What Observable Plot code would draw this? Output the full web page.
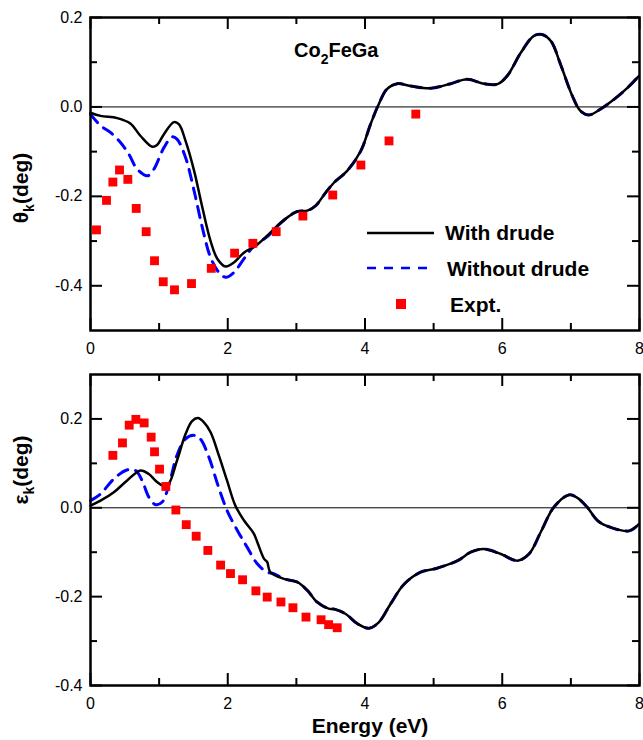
<!DOCTYPE html>
<html><head><meta charset="utf-8">
<script src="https://cdn.jsdelivr.net/npm/d3@7"></script>
<script src="https://cdn.jsdelivr.net/npm/@observablehq/plot@0.6"></script>
<style>
body{margin:0;background:#fff;}
#chart{position:relative;width:643px;height:740px;font-family:"Liberation Sans",Arial,sans-serif;}
#chart svg{position:absolute;left:0;}
</style></head><body><div id="chart"></div>
<script>
// ---- Data: Kerr rotation θk (top) ----
const thetaWithX = [0,0.146,0.39,0.58,0.73,0.90,0.97,1.07,1.215,1.29,1.385,1.51,1.63,1.75,1.85,1.97,2.09,2.235,2.405,2.575,2.72,2.87,3.01,3.16,3.28,3.43,3.55,3.74,3.94,4.08,4.20,4.32,4.47,4.66,4.96,5.25,5.49,5.73,5.93,6.07,6.27,6.46,6.58,6.71,6.85,7.02,7.14,7.26,7.43,7.63,7.82,7.99];
const thetaWithY = [-0.013,-0.020,-0.025,-0.037,-0.065,-0.089,-0.085,-0.061,-0.034,-0.039,-0.076,-0.143,-0.225,-0.300,-0.340,-0.357,-0.348,-0.326,-0.311,-0.288,-0.266,-0.247,-0.234,-0.232,-0.221,-0.191,-0.169,-0.143,-0.098,-0.039,0.006,0.040,0.052,0.047,0.042,0.052,0.062,0.052,0.051,0.069,0.121,0.159,0.162,0.147,0.095,0.025,-0.009,-0.018,-0.005,0.017,0.042,0.069];
const thetaWithoutX = [0,0.146,0.29,0.44,0.56,0.68,0.83,0.92,1.07,1.19,1.26,1.385,1.51,1.63,1.75,1.87,1.97,2.09,2.235,2.38,2.575,2.72,2.87,3.01,3.16,3.28,3.43,3.55,3.74,3.94,4.08,4.20,4.32,4.47,4.66,4.96,5.25,5.49,5.73,5.93,6.07,6.27,6.46,6.58,6.71,6.85,7.02,7.14,7.26,7.43,7.63,7.82,7.99];
const thetaWithoutY = [-0.016,-0.042,-0.057,-0.080,-0.106,-0.139,-0.154,-0.140,-0.091,-0.067,-0.072,-0.113,-0.188,-0.270,-0.337,-0.370,-0.381,-0.370,-0.340,-0.311,-0.290,-0.267,-0.247,-0.234,-0.232,-0.221,-0.191,-0.169,-0.143,-0.098,-0.039,0.006,0.040,0.052,0.047,0.042,0.052,0.062,0.052,0.051,0.069,0.121,0.159,0.162,0.147,0.095,0.025,-0.009,-0.018,-0.005,0.017,0.042,0.069];
const thetaExptX = [0.087,0.233,0.326,0.423,0.544,0.666,0.811,0.933,1.06,1.224,1.472,1.76,2.10,2.366,2.706,3.095,3.53,3.94,4.35,4.74];
const thetaExptY = [-0.275,-0.209,-0.168,-0.141,-0.162,-0.227,-0.279,-0.344,-0.391,-0.409,-0.395,-0.361,-0.327,-0.305,-0.279,-0.244,-0.197,-0.130,-0.076,-0.016];

// ---- Data: Kerr ellipticity εk (bottom) ----
const epsWithX = [0,0.146,0.34,0.53,0.73,0.85,0.97,1.07,1.14,1.26,1.385,1.48,1.565,1.65,1.75,1.87,1.99,2.11,2.235,2.38,2.43,2.53,2.575,2.62,2.82,3.01,3.16,3.30,3.47,3.55,3.72,3.89,4.06,4.20,4.37,4.57,4.81,5.05,5.35,5.54,5.73,5.98,6.22,6.39,6.56,6.75,6.97,7.09,7.24,7.39,7.58,7.85,7.99];
const epsWithY = [0.005,0.016,0.035,0.061,0.084,0.076,0.058,0.049,0.054,0.106,0.166,0.195,0.202,0.193,0.170,0.118,0.061,0.005,-0.028,-0.058,-0.077,-0.115,-0.122,-0.145,-0.160,-0.167,-0.186,-0.212,-0.227,-0.228,-0.239,-0.261,-0.271,-0.258,-0.217,-0.172,-0.145,-0.136,-0.119,-0.100,-0.093,-0.104,-0.119,-0.104,-0.055,0.001,0.029,0.023,0.001,-0.029,-0.044,-0.052,-0.037];
const epsWithoutX = [0,0.146,0.34,0.53,0.656,0.753,0.85,0.95,1.045,1.14,1.26,1.385,1.51,1.60,1.725,1.85,1.99,2.14,2.28,2.43,2.575,2.67,2.82,3.01,3.16,3.30,3.47,3.55,3.72,3.89,4.06,4.20,4.37,4.57,4.81,5.05,5.35,5.54,5.73,5.98,6.22,6.39,6.56,6.75,6.97,7.09,7.24,7.39,7.58,7.85,7.99];
const epsWithoutY = [0.016,0.031,0.065,0.085,0.084,0.061,0.024,0.007,0.013,0.050,0.118,0.155,0.163,0.155,0.114,0.054,-0.006,-0.051,-0.088,-0.126,-0.145,-0.148,-0.160,-0.167,-0.186,-0.212,-0.227,-0.228,-0.239,-0.261,-0.271,-0.258,-0.217,-0.172,-0.145,-0.136,-0.119,-0.100,-0.093,-0.104,-0.119,-0.104,-0.055,0.001,0.029,0.023,0.001,-0.029,-0.044,-0.052,-0.037];
const epsExptX = [0.326,0.466,0.564,0.661,0.782,0.884,0.933,1.006,1.098,1.244,1.395,1.54,1.71,1.896,2.04,2.216,2.41,2.575,2.775,2.95,3.14,3.36,3.47,3.595];
const epsExptY = [0.118,0.146,0.186,0.199,0.191,0.159,0.126,0.087,0.048,-0.005,-0.038,-0.064,-0.096,-0.129,-0.148,-0.162,-0.187,-0.201,-0.212,-0.225,-0.246,-0.252,-0.263,-0.270];

// ---- Ticks and labels ----
const xMajor = [0,2,4,6,8];
const xMinor = [1,3,5,7];
const yMajor = [-0.4,-0.2,0,0.2];
const yMinorTop = [-0.3,-0.1,0.1];
const yMinorBottom = [-0.3,-0.1,0.1];
const seriesNames = ["With drude","Without drude","Expt."];
const xTitle = "Energy (eV)";
const compound = ["Co","2","FeGa"];

const FONT = '"Liberation Sans", Arial, sans-serif';
const W = 643, ML = 90, MR = 4;
const DASH = "11,8";
const zip = (xs, ys) => xs.map((x, i) => ({x, y: ys[i]}));

function panel({height, marginTop, marginBottom, yDomain, yMinor, withX, withY, withoutX, withoutY, exptX, exptY}) {
  const fh = height - marginTop - marginBottom;
  const fw = W - ML - MR;
  const MAJ = 12, MIN = 7;
  const svg = Plot.plot({
    width: W, height, marginTop, marginBottom, marginLeft: ML, marginRight: MR,
    style: {fontFamily: FONT, fontSize: "16px", color: "black", background: "white", overflow: "visible"},
    x: {domain: [0, 8], label: null},
    y: {domain: yDomain, label: null},
    marks: [
      Plot.ruleY([0], {stroke: "black", strokeWidth: 1}),
      Plot.line(zip(withoutX, withoutY), {x: "x", y: "y", stroke: "#0000ff", strokeWidth: 3, strokeDasharray: DASH, curve: "catmull-rom"}),
      Plot.line(zip(withX, withY), {x: "x", y: "y", stroke: "black", strokeWidth: 2.5, curve: "catmull-rom"}),
      Plot.dot(zip(exptX, exptY), {x: "x", y: "y", symbol: "square", fill: "#ff0000", r: 5}),
      Plot.tickX(xMajor, {x: d => d, insetTop: fh - MAJ, stroke: "black", strokeWidth: 2}),
      Plot.tickX(xMajor, {x: d => d, insetBottom: fh - MAJ, stroke: "black", strokeWidth: 2}),
      Plot.tickX(xMinor, {x: d => d, insetTop: fh - MIN, stroke: "black", strokeWidth: 2}),
      Plot.tickX(xMinor, {x: d => d, insetBottom: fh - MIN, stroke: "black", strokeWidth: 2}),
      Plot.tickY(yMajor, {y: d => d, insetRight: fw - MAJ, stroke: "black", strokeWidth: 2}),
      Plot.tickY(yMajor, {y: d => d, insetLeft: fw - MAJ, stroke: "black", strokeWidth: 2}),
      Plot.tickY(yMinor, {y: d => d, insetRight: fw - MIN, stroke: "black", strokeWidth: 2}),
      Plot.tickY(yMinor, {y: d => d, insetLeft: fw - MIN, stroke: "black", strokeWidth: 2}),
      Plot.axisX(xMajor, {tickSize: 0, tickPadding: 12, fontSize: 16, label: null, tickFormat: d => String(d)}),
      Plot.axisY(yMajor, {tickSize: 0, tickPadding: 8, fontSize: 16, label: null, tickFormat: d => d.toFixed(1)}),
      Plot.frame({stroke: "black", strokeWidth: 2.5})
    ]
  });
  // make sure the dash pattern is applied to the "without drude" curve
  d3.select(svg).selectAll('[stroke="#0000ff"]').attr("stroke-dasharray", DASH);
  d3.select(svg).selectAll('[stroke="#0000ff"] path').attr("stroke-dasharray", DASH);
  return svg;
}

const chartEl = document.getElementById("chart");

const topPlot = panel({height: 360, marginTop: 17, marginBottom: 30, yDomain: [-0.5, 0.2], yMinor: yMinorTop,
  withX: thetaWithX, withY: thetaWithY, withoutX: thetaWithoutX, withoutY: thetaWithoutY, exptX: thetaExptX, exptY: thetaExptY});
topPlot.style.top = "0px";
chartEl.appendChild(topPlot);

const botPlot = panel({height: 380, marginTop: 14, marginBottom: 55, yDomain: [-0.4, 0.3], yMinor: yMinorBottom,
  withX: epsWithX, withY: epsWithY, withoutX: epsWithoutX, withoutY: epsWithoutY, exptX: epsExptX, exptY: epsExptY});
botPlot.style.top = "360px";
chartEl.appendChild(botPlot);

// y-axis titles with subscript
function yTitle(svg, sym, cy) {
  const t = d3.select(svg).append("text")
    .attr("transform", `translate(28,${cy}) rotate(-90)`)
    .attr("text-anchor", "middle").attr("font-family", FONT)
    .attr("font-weight", "bold").attr("font-size", 21).attr("fill", "black");
  t.append("tspan").text(sym);
  t.append("tspan").attr("font-size", 14).attr("dy", 6).text("k");
  t.append("tspan").attr("dy", -6).text("(deg)");
}
yTitle(topPlot, "θ", 188);
yTitle(botPlot, "ε", 110);

// x-axis title
d3.select(botPlot).append("text").attr("x", 370).attr("y", 373)
  .attr("text-anchor", "middle").attr("font-family", FONT).attr("font-weight", "bold")
  .attr("font-size", 21).attr("fill", "black").text(xTitle);

// compound annotation
{
  const t = d3.select(topPlot).append("text").attr("x", 294).attr("y", 57).attr("text-anchor", "start")
    .attr("font-family", FONT).attr("font-weight", "bold").attr("font-size", 20).attr("fill", "black");
  t.append("tspan").text(compound[0]);
  t.append("tspan").attr("font-size", 14).attr("dy", 7).text(compound[1]);
  t.append("tspan").attr("dy", -7).text(compound[2]);
}

// legend
{
  const g = d3.select(topPlot).append("g").attr("font-family", FONT).attr("font-weight", "bold")
    .attr("font-size", 21).attr("fill", "black").attr("text-anchor", "start");
  g.append("line").attr("x1", 367).attr("x2", 434).attr("y1", 233).attr("y2", 233).attr("stroke", "black").attr("stroke-width", 2.5);
  g.append("line").attr("x1", 367).attr("x2", 434).attr("y1", 268).attr("y2", 268).attr("stroke", "#0000ff").attr("stroke-width", 2.5).attr("stroke-dasharray", "9,8");
  g.append("rect").attr("x", 396).attr("y", 299).attr("width", 10).attr("height", 10).attr("fill", "#ff0000");
  g.append("text").attr("x", 445).attr("y", 240).text(seriesNames[0]);
  g.append("text").attr("x", 447).attr("y", 276).text(seriesNames[1]);
  g.append("text").attr("x", 450).attr("y", 312).text(seriesNames[2]);
}
</script>
</body></html>
